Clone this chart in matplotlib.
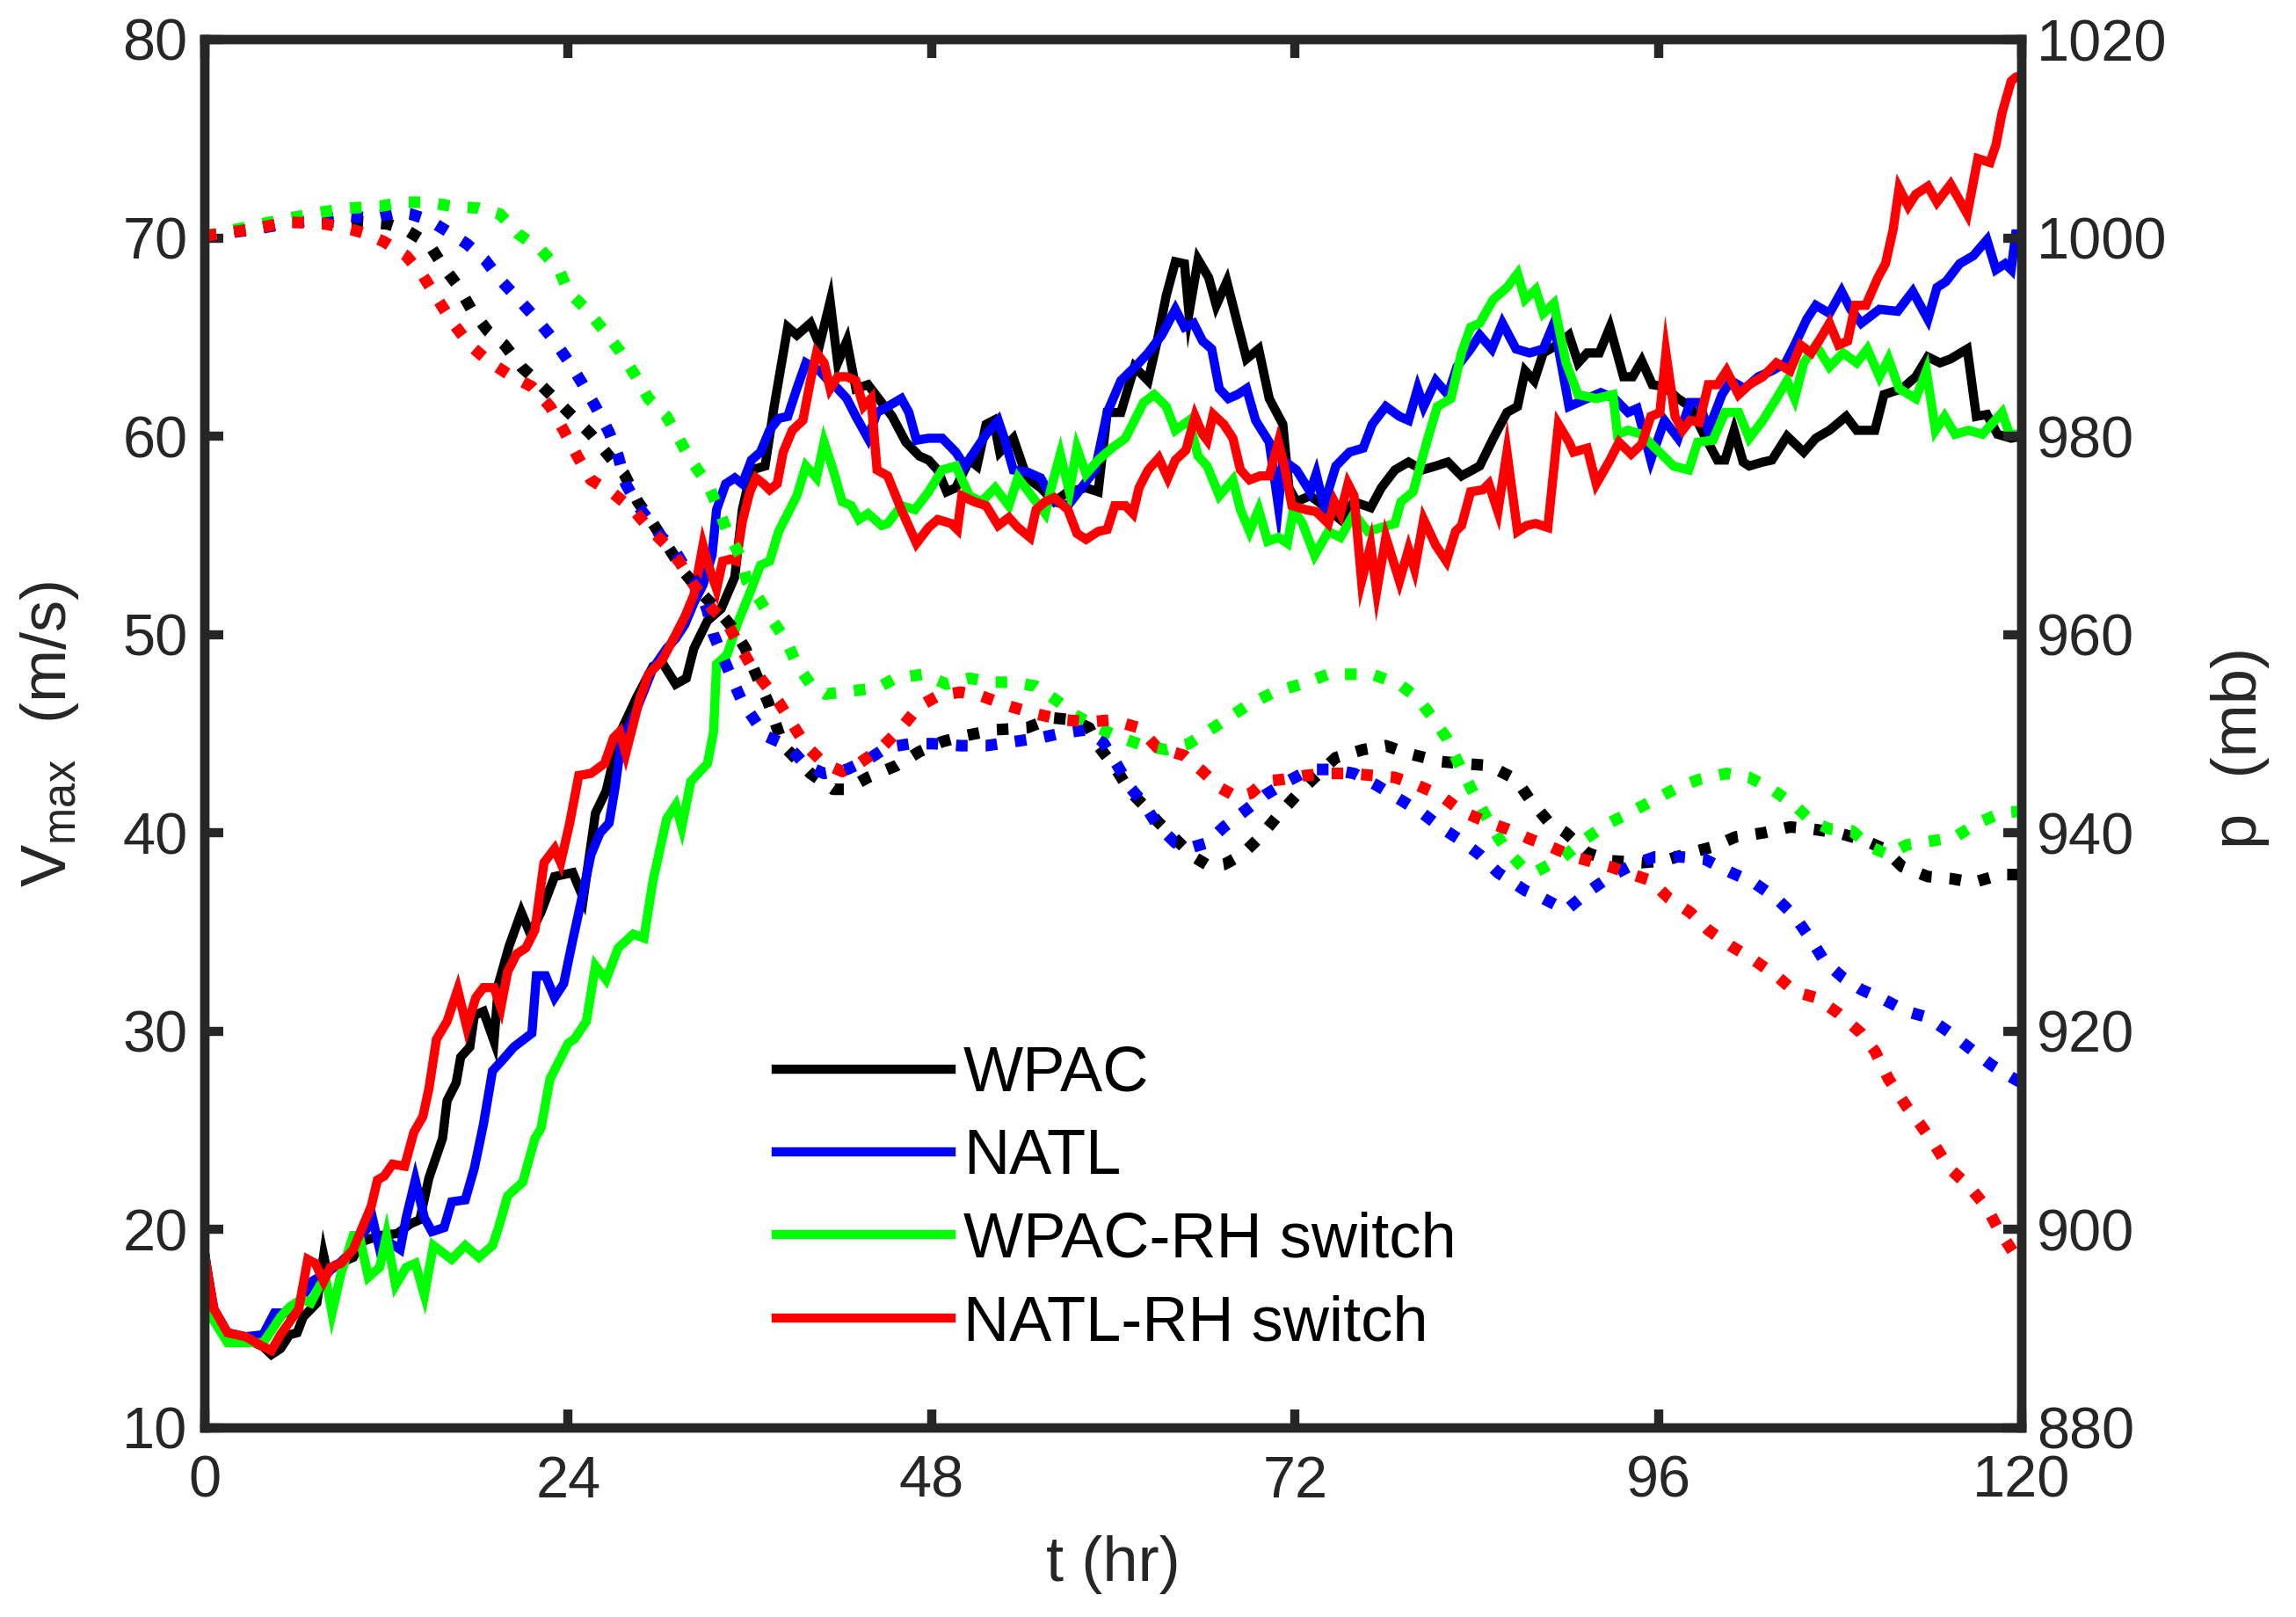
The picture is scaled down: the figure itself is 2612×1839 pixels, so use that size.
import matplotlib
matplotlib.use("Agg")
import matplotlib.pyplot as plt

plt.rcParams['font.family'] = ['Liberation Sans', 'DejaVu Sans']
plt.rcParams['mathtext.fontset'] = 'custom'
plt.rcParams['mathtext.rm'] = 'Liberation Sans'
plt.rcParams['mathtext.it'] = 'Liberation Sans:italic'

labels = ["WPAC", "NATL", "WPAC-RH switch", "NATL-RH switch"]
colors = ["#000000", "#0000ff", "#00ff00", "#ff0000"]

# ---- Vmax (m/s), solid lines ----
t_wpac = [0, 0.6, 1.5, 2.7, 3.85, 4.4, 5.0, 5.6, 6.1, 6.5, 7.4, 7.85, 8.1, 8.6, 9.8, 10.4, 11.55, 12.7, 13.6, 14.2,
          14.8, 15.7, 16.0, 16.6, 16.9, 17.5, 17.8, 18.4, 19.1, 19.4, 20.1, 20.9, 21.5, 22.2, 23.1, 24.3, 25.0, 25.8,
          26.5, 27.4, 28.5, 29.6, 30.2, 31.1, 31.8, 32.3, 33.2, 34.1, 35.0, 35.5, 36.1, 37.0, 37.6, 38.5, 39.1, 40.0,
          40.6, 41.3, 41.8, 42.4, 43.0, 43.8, 44.7, 45.4, 46.3, 47.2, 47.8, 48.4, 49.0, 49.6, 50.5, 51.0, 51.6, 52.1,
          52.5, 53.4, 54.3, 55.2, 56.1, 57.0, 58.2, 59.0, 59.6, 60.5, 61.4, 62.3, 62.9, 63.5, 64.1, 64.7, 65.0, 65.6,
          66.3, 66.8, 67.5, 68.2, 68.8, 69.6, 70.3, 71.2, 71.6, 72.1, 73.0, 73.9, 75.0, 75.9, 77.0, 77.7, 78.6, 79.5,
          80.4, 81.3, 82.1, 83.0, 84.2, 85.1, 86.0, 86.7, 87.2, 87.8, 88.4, 89.3, 90.1, 90.7, 91.3, 92.1, 92.8, 93.7,
          94.3, 94.9, 95.6, 96.4, 97.3, 98.1, 99.0, 99.9, 100.4, 101.0, 101.6, 102.0, 102.9, 103.5, 104.5, 105.6,
          106.4, 107.3, 108.4, 109.1, 110.3, 110.9, 112.1, 113.0, 113.8, 114.6, 115.3, 116.4, 117.0, 117.7, 118.4,
          119.3, 120]
v_wpac = [18.8, 15.8, 14.7, 14.5, 14.1, 13.7, 14.0, 14.7, 14.8, 15.6, 16.3, 18.7, 17.8, 18.2, 18.6, 19.4, 19.7, 19.8,
          20.3, 20.5, 22.6, 24.6, 26.5, 27.4, 28.7, 29.2, 30.8, 31.0, 29.5, 32.4, 34.3, 36.0, 34.9, 36.0, 37.8, 38.0,
          36.7, 41.0, 42.1, 45.0, 46.8, 48.4, 48.6, 47.5, 47.8, 49.3, 50.7, 51.3, 52.9, 56.3, 58.3, 58.5, 61.5, 65.5,
          65.1, 65.7, 64.6, 66.8, 63.7, 64.8, 62.4, 62.6, 61.7, 61.0, 59.7, 59.0, 58.8, 58.3, 57.2, 57.4, 58.8, 58.5,
          60.6, 60.8, 59.2, 59.9, 57.9, 57.4, 56.7, 57.2, 57.4, 57.2, 61.2, 61.2, 63.5, 62.8, 64.8, 67.1, 68.8, 68.7,
          66.2, 68.9, 68.0, 66.6, 67.8, 65.7, 63.9, 64.4, 61.9, 60.6, 57.4, 56.7, 57.0, 56.5, 55.8, 56.7, 56.4, 57.4,
          58.3, 58.7, 58.3, 58.5, 58.7, 58.0, 58.5, 59.9, 61.2, 61.5, 63.3, 62.8, 64.2, 64.6, 65.1, 63.7, 64.2, 64.2,
          65.5, 63.0, 63.0, 63.8, 62.6, 62.5, 61.9, 61.5, 60.1, 58.8, 58.8, 60.3, 58.7, 58.5, 58.7, 58.8, 60.0, 59.2,
          59.9, 60.3, 61.0, 60.3, 60.3, 62.1, 62.4, 63.0, 64.0, 63.7, 63.9, 64.4, 61.0, 61.1, 60.1, 59.9, 60.0]

t_natl = [0, 0.6, 1.5, 2.7, 3.85, 4.6, 5.6, 6.2, 7.1, 8.0, 8.9, 9.8, 10.4, 11.1, 11.55, 12.1, 12.9, 13.3, 13.9, 14.5,
          15.0, 15.8, 16.3, 17.2, 17.8, 18.4, 19.0, 19.6, 20.4, 21.6, 21.9, 22.5, 23.1, 23.7, 24.3, 24.9, 25.5, 26.1,
          26.7, 27.1, 27.5, 28.4, 29.6, 30.5, 31.1, 31.7, 32.3, 32.9, 33.5, 33.8, 34.4, 35.0, 35.5, 36.1, 36.7, 37.3,
          37.9, 38.5, 39.1, 39.7, 40.6, 41.2, 41.8, 42.4, 43.0, 43.8, 44.4, 45.1, 46.0, 46.5, 47.0, 47.8, 48.7, 49.6,
          50.2, 50.9, 51.6, 52.4, 52.8, 53.4, 54.3, 55.2, 56.1, 57.0, 57.9, 58.8, 59.3, 59.6, 60.5, 61.7, 62.3, 63.2,
          64.1, 64.7, 65.3, 65.9, 66.5, 67.0, 67.6, 68.2, 68.8, 69.4, 70.3, 70.9, 71.2, 72.1, 73.0, 73.4, 73.9, 74.7,
          75.6, 76.5, 77.1, 78.0, 78.9, 79.5, 80.1, 80.5, 81.3, 82.1, 82.7, 83.6, 84.2, 85.0, 85.7, 86.6, 87.5, 88.4,
          89.1, 90.1, 91.3, 92.2, 93.1, 94.0, 94.6, 95.5, 96.4, 97.3, 98.1, 98.7, 99.3, 100.2, 100.8, 101.7, 102.6,
          103.5, 104.4, 105.0, 105.8, 106.4, 107.3, 108.1, 108.7, 109.4, 110.6, 111.8, 112.8, 113.8, 114.4, 115.0,
          115.9, 116.8, 117.7, 118.3, 118.9, 119.3, 119.6, 120]
v_natl = [18.6, 16.0, 14.8, 14.6, 14.7, 15.8, 15.8, 16.3, 17.4, 17.8, 18.3, 19.0, 19.7, 20.5, 19.0, 19.4, 19.0, 20.6,
          22.5, 20.6, 19.9, 20.1, 21.4, 21.5, 23.1, 25.3, 28.0, 28.5, 29.2, 29.9, 32.8, 32.8, 31.7, 32.4, 34.6, 36.7,
          38.9, 40.0, 40.5, 42.3, 44.6, 46.0, 48.3, 49.3, 49.8, 50.5, 51.6, 52.5, 54.0, 56.3, 57.6, 57.9, 57.6, 58.8,
          59.2, 60.3, 60.9, 61.0, 62.4, 63.7, 63.3, 62.8, 62.4, 61.9, 61.0, 59.9, 61.2, 61.5, 61.9, 61.2, 59.8, 59.9,
          59.9, 59.2, 58.5, 59.3, 60.1, 60.8, 59.9, 58.3, 58.2, 57.9, 56.7, 56.5, 57.4, 58.3, 60.1, 61.2, 62.8, 63.7,
          64.2, 65.1, 66.4, 65.5, 65.7, 64.8, 64.4, 62.4, 61.9, 62.1, 62.4, 60.8, 59.7, 56.5, 58.8, 58.3, 57.2, 58.1,
          56.5, 58.5, 59.2, 59.4, 60.6, 61.5, 61.0, 60.8, 62.4, 61.5, 62.8, 62.1, 63.5, 64.4, 65.1, 64.4, 65.7, 64.4,
          64.2, 64.4, 65.7, 61.5, 61.9, 62.2, 61.9, 61.2, 61.4, 58.8, 60.8, 59.9, 61.7, 61.7, 60.3, 62.1, 62.8, 62.4,
          63.0, 63.3, 63.7, 64.6, 65.9, 66.6, 66.2, 67.3, 66.4, 65.7, 66.4, 66.3, 67.3, 65.9, 67.5, 67.8, 68.7, 69.1,
          69.9, 68.4, 68.7, 68.4, 70.2, 70.2]

t_wpac_rh = [0, 0.6, 1.5, 2.7, 3.85, 4.4, 5.0, 5.6, 6.4, 7.0, 7.6, 8.0, 8.4, 9.0, 9.8, 10.2, 10.8, 11.55, 12.0, 12.6,
             13.3, 13.9, 14.5, 15.1, 16.3, 17.2, 18.1, 19.0, 19.4, 20.0, 21.0, 21.8, 22.2, 22.8, 23.4, 24.0, 24.4,
             25.2, 25.8, 26.5, 27.3, 28.3, 29.0, 29.6, 30.5, 31.1, 31.5, 32.1, 33.2, 33.6, 33.8, 34.5, 35.2, 36.1,
             36.7, 37.3, 37.9, 38.5, 39.1, 39.7, 40.4, 40.9, 41.5, 42.1, 42.7, 43.2, 43.8, 44.7, 45.1, 46.0, 46.9,
             47.8, 48.7, 49.6, 50.5, 51.3, 52.2, 53.1, 53.7, 54.6, 55.5, 55.9, 56.5, 57.1, 57.6, 58.2, 59.0, 59.9,
             60.8, 61.4, 62.0, 62.7, 63.5, 64.1, 65.0, 65.6, 66.2, 67.0, 67.9, 68.4, 69.0, 69.6, 70.2, 70.9, 71.5,
             71.9, 72.5, 73.3, 74.2, 75.0, 75.9, 76.8, 77.7, 78.6, 79.0, 79.8, 80.7, 81.4, 82.3, 83.0, 83.6, 84.2,
             85.1, 86.0, 86.7, 87.2, 87.9, 88.4, 89.1, 89.9, 90.7, 91.9, 93.0, 93.3, 94.0, 94.9, 95.8, 97.0, 98.0,
             98.6, 99.6, 100.4, 101.3, 102.0, 102.9, 103.8, 104.5, 105.0, 105.6, 106.4, 107.3, 108.2, 109.1, 109.8,
             110.6, 111.2, 111.9, 113.0, 113.7, 114.3, 114.9, 115.6, 116.5, 117.4, 118.0, 118.7, 119.2, 120]
v_wpac_rh = [18.6, 15.4, 14.3, 14.3, 14.3, 14.9, 15.6, 16.1, 16.5, 16.3, 17.2, 17.5, 15.8, 17.8, 19.7, 19.7, 17.6,
             18.1, 19.7, 17.2, 18.1, 18.3, 16.7, 19.2, 18.5, 19.2, 18.6, 19.2, 20.1, 21.7, 22.4, 24.6, 25.1, 27.6,
             28.5, 29.4, 29.6, 30.5, 33.3, 32.6, 34.2, 34.9, 34.7, 37.6, 40.7, 41.4, 40.3, 42.6, 43.5, 45.1, 48.5,
             49.0, 50.6, 52.3, 53.5, 53.7, 55.2, 56.1, 57.0, 58.5, 57.9, 59.7, 58.3, 56.7, 56.5, 55.8, 56.1, 55.5,
             55.6, 56.5, 56.3, 57.2, 58.3, 58.5, 57.0, 56.7, 57.4, 56.5, 57.9, 57.0, 56.1, 57.4, 59.1, 57.2, 59.4,
             58.1, 58.8, 59.4, 59.9, 60.8, 61.7, 62.1, 61.5, 60.3, 60.8, 59.0, 58.5, 57.0, 57.8, 56.3, 55.2, 56.3,
             54.7, 54.9, 54.6, 56.3, 55.6, 54.0, 55.2, 54.9, 56.1, 55.2, 55.4, 55.6, 56.7, 57.2, 59.7, 61.5, 61.9,
             64.2, 65.5, 65.7, 66.9, 67.5, 68.2, 66.9, 67.4, 66.2, 66.7, 63.7, 62.1, 61.9, 62.1, 60.1, 60.3, 60.1,
             59.4, 58.5, 58.3, 59.7, 59.8, 61.2, 61.2, 59.9, 60.8, 61.9, 62.8, 61.9, 63.7, 64.6, 63.5, 64.2, 63.7,
             64.4, 63.0, 63.9, 62.4, 61.9, 63.3, 60.3, 61.0, 60.1, 60.3, 60.1, 60.6, 61.2, 60.1, 60.1]

t_natl_rh = [0, 0.6, 1.5, 2.7, 3.85, 4.4, 5.0, 5.6, 6.2, 6.8, 7.3, 7.85, 8.3, 9.0, 9.8, 10.4, 11.0, 11.4, 11.85, 12.4,
             13.2, 13.8, 14.4, 14.8, 15.3, 16.0, 16.7, 17.3, 17.9, 18.4, 19.1, 19.55, 20.0, 20.6, 21.2, 21.8, 22.4,
             23.1, 23.5, 24.1, 24.7, 25.5, 26.4, 27.0, 27.4, 27.8, 28.7, 29.3, 30.2, 31.1, 31.7, 32.3, 32.9, 33.3,
             33.8, 34.2, 34.7, 35.1, 35.5, 36.0, 36.4, 36.9, 37.3, 37.8, 38.2, 38.8, 39.5, 40.0, 40.4, 40.9, 41.3,
             41.8, 42.4, 43.0, 43.5, 44.0, 44.4, 45.1, 46.0, 47.0, 47.8, 48.4, 49.3, 49.7, 50.0, 50.8, 51.6, 52.4,
             53.1, 53.7, 54.5, 54.9, 55.5, 56.1, 57.0, 57.6, 58.2, 59.0, 59.6, 60.1, 60.8, 61.3, 61.7, 62.3, 63.0,
             63.6, 64.1, 64.8, 65.4, 65.9, 66.2, 66.6, 67.3, 67.9, 68.4, 69.0, 69.7, 70.3, 70.9, 71.3, 71.8, 72.7,
             73.4, 74.2, 74.6, 75.0, 75.5, 75.9, 76.4, 77.0, 77.4, 78.0, 78.9, 79.5, 79.9, 80.5, 81.3, 82.0, 82.6,
             83.0, 83.6, 84.4, 84.8, 85.4, 86.0, 86.7, 87.3, 87.9, 88.7, 89.4, 90.1, 90.4, 91.3, 91.9, 92.8, 93.4,
             94.2, 94.9, 95.5, 96.1, 96.5, 97.1, 97.6, 98.1, 98.7, 99.3, 99.9, 100.5, 101.3, 102.0, 102.9, 103.8,
             104.7, 105.4, 106.1, 106.6, 107.3, 107.9, 108.5, 109.0, 109.7, 110.5, 111.0, 111.5, 111.9, 112.5, 113.0,
             113.8, 114.4, 115.3, 116.4, 117.1, 117.9, 118.3, 118.7, 119.3, 119.6, 120]
v_natl_rh = [18.6, 16.0, 14.8, 14.6, 14.1, 13.9, 14.7, 15.35, 16.0, 18.5, 18.3, 17.4, 18.1, 18.3, 19.0, 20.1, 21.2,
             22.5, 22.7, 23.3, 23.2, 24.9, 25.7, 27.1, 29.6, 30.5, 32.1, 30.2, 31.7, 32.2, 32.2, 31.2, 33.0, 33.9,
             34.2, 35.1, 38.5, 39.2, 38.5, 40.5, 42.9, 43.0, 43.5, 44.8, 45.1, 44.0, 46.7, 48.0, 48.7, 50.0, 50.9,
             52.0, 54.5, 53.4, 52.3, 53.7, 53.8, 53.7, 55.7, 57.2, 57.9, 57.6, 57.3, 57.6, 59.2, 60.3, 60.8, 62.8,
             64.2, 63.7, 62.4, 63.0, 63.0, 62.8, 61.5, 61.9, 58.3, 58.0, 56.3, 54.6, 55.4, 55.8, 55.6, 55.3, 57.0,
             56.7, 56.5, 55.5, 55.9, 55.4, 54.9, 56.3, 56.7, 56.9, 56.3, 55.1, 54.8, 55.2, 55.3, 56.5, 56.5, 56.1,
             57.4, 58.3, 58.9, 57.9, 58.8, 59.3, 61.0, 60.1, 59.8, 61.1, 60.6, 59.9, 58.3, 57.8, 58.0, 58.0, 59.7,
             58.5, 56.5, 56.3, 56.2, 55.6, 56.7, 56.1, 57.6, 57.0, 52.7, 54.5, 52.2, 54.9, 52.7, 54.3, 53.3, 55.8,
             54.5, 53.7, 55.2, 55.5, 57.2, 57.3, 57.6, 56.2, 59.2, 55.2, 55.5, 55.6, 55.4, 60.6, 59.7, 59.2, 59.4,
             57.6, 58.8, 59.7, 59.1, 59.6, 61.0, 61.2, 64.2, 61.0, 60.3, 60.8, 60.7, 62.6, 62.6, 63.3, 62.1, 62.6,
             63.0, 63.7, 63.3, 64.6, 64.2, 64.8, 65.7, 64.6, 64.8, 66.6, 66.6, 68.0, 68.7, 70.4, 72.5, 71.6, 72.2,
             72.6, 71.8, 72.7, 71.2, 74.0, 73.8, 74.7, 76.3, 77.9, 78.1, 78.2]

# ---- minimum pressure (mb), dotted lines ----
tp_wpac = [0, 2.7, 5.6, 8.6, 10.4, 12.1, 13.3, 14.8, 15.8, 16.7, 17.6, 18.7, 19.8, 20.9, 21.9, 23.1, 24.3, 25.5, 26.7,
           27.7, 28.6, 29.6, 30.7, 31.7, 32.9, 33.8, 34.8, 35.7, 36.4, 37.2, 38.2, 40.0, 41.5, 42.4, 43.8, 45.7,
           47.2, 48.7, 50.2, 52.2, 54.3, 56.0, 57.3, 58.4, 59.0, 60.2, 61.1, 62.0, 62.9, 64.1, 65.3, 66.4, 67.3,
           68.5, 69.7, 70.9, 72.1, 73.3, 74.7, 76.5, 78.0, 79.5, 81.6, 83.0, 84.8, 86.6, 87.5, 88.7, 89.9, 91.3,
           92.8, 94.9, 96.4, 98.1, 99.6, 101.1, 102.9, 104.7, 106.1, 107.9, 109.7, 110.9, 112.1, 113.8, 115.3,
           116.8, 118.6, 120]
p_wpac = [1000.2, 1000.8, 1001.6, 1001.6, 1001.6, 1001.4, 1000.8, 999.4, 997.0, 995.2, 992.8, 990.6, 989.2, 987.0,
          985.6, 983.8, 982.0, 980.2, 978.0, 976.2, 973.4, 971.2, 968.6, 966.2, 964.0, 962.6, 960.8, 958.6, 956.0,
          953.2, 948.8, 946.0, 944.4, 944.4, 945.6, 946.8, 948.2, 949.2, 949.8, 950.4, 950.6, 951.6, 951.4, 950.6,
          948.8, 946.4, 944.2, 942.8, 941.2, 939.4, 937.6, 936.6, 936.8, 937.8, 939.6, 941.8, 943.8, 945.6, 947.6,
          948.4, 948.8, 948.0, 947.2, 947.0, 946.8, 945.4, 943.4, 941.2, 940.0, 938.0, 937.2, 937.0, 937.2, 938.0,
          938.6, 939.6, 940.0, 940.6, 940.4, 940.0, 939.2, 938.4, 936.6, 935.6, 935.4, 935.0, 935.8, 935.8]

tp_natl = [0, 3.0, 6.0, 9.5, 11.0, 12.7, 13.6, 14.8, 16.3, 17.3, 18.5, 19.5, 20.6, 21.8, 23.0, 24.0, 24.9, 25.8, 26.7,
           27.3, 27.8, 28.6, 29.5, 30.2, 31.0, 31.7, 32.6, 33.2, 33.6, 34.2, 34.8, 35.5, 36.3, 37.0, 38.5, 39.7,
           40.9, 42.4, 43.8, 45.0, 46.6, 48.1, 49.9, 51.6, 53.4, 55.2, 56.4, 58.2, 59.3, 60.2, 61.1, 62.0, 62.9,
           64.1, 65.3, 66.2, 67.3, 68.5, 70.0, 71.5, 73.0, 74.4, 75.9, 77.4, 78.9, 80.4, 81.6, 83.0, 84.2, 85.4,
           87.2, 88.4, 89.9, 91.3, 92.8, 94.3, 95.8, 97.3, 99.0, 100.8, 102.3, 103.8, 105.0, 106.1, 107.0, 108.2,
           109.4, 110.9, 112.4, 113.8, 115.3, 116.8, 118.0, 119.5, 120]
p_natl = [1000.2, 1000.8, 1001.6, 1002.2, 1002.0, 1002.6, 1002.4, 1001.8, 1000.4, 999.4, 997.8, 995.8, 994.0, 992.0,
          989.8, 987.6, 985.4, 983.0, 980.4, 978.0, 975.2, 973.0, 971.2, 969.8, 968.6, 966.8, 965.0, 962.4, 960.0,
          957.8, 955.6, 953.2, 951.4, 949.8, 948.8, 946.8, 946.0, 946.4, 947.4, 948.6, 949.0, 949.0, 948.8, 948.8,
          949.2, 949.6, 950.0, 950.4, 949.2, 947.0, 944.6, 943.0, 940.8, 939.0, 938.6, 939.0, 940.6, 942.0, 943.8,
          945.2, 946.4, 946.4, 946.0, 944.8, 943.4, 942.0, 940.6, 939.2, 937.8, 936.0, 934.2, 933.4, 932.2, 934.0,
          935.6, 936.8, 937.6, 937.6, 937.4, 936.0, 935.0, 933.4, 931.6, 929.2, 927.0, 925.4, 924.2, 923.2, 922.0,
          921.4, 919.8, 918.0, 916.6, 915.2, 914.8]

tp_wpac_rh = [0, 5.6, 7.7, 9.5, 11.6, 13.0, 14.8, 16.3, 18.1, 19.5, 20.7, 22.2, 23.4, 24.0, 25.2, 26.4, 27.4, 28.4,
              29.3, 30.5, 31.3, 32.1, 33.2, 33.9, 34.5, 35.4, 35.8, 36.6, 37.5, 38.4, 39.1, 40.0, 41.0, 42.1, 43.2,
              44.4, 45.6, 47.5, 49.0, 50.5, 51.9, 53.4, 54.9, 56.4, 57.6, 59.0, 60.5, 62.0, 63.5, 65.0, 67.0, 68.8,
              70.6, 72.4, 74.2, 75.6, 77.1, 78.9, 80.1, 81.1, 82.0, 83.0, 84.0, 85.0, 86.0, 87.0, 87.8, 88.8, 89.6,
              91.0, 92.5, 94.3, 95.8, 97.3, 98.7, 100.5, 102.0, 103.5, 105.0, 106.1, 107.3, 108.8, 110.0, 111.2,
              112.4, 114.1, 115.6, 117.1, 118.6, 120]
p_wpac_rh = [1000.2, 1002.0, 1002.6, 1003.0, 1003.2, 1003.6, 1003.6, 1003.2, 1003.0, 1002.4, 1000.4, 998.8, 996.8,
             994.6, 992.8, 990.6, 988.6, 986.2, 983.8, 982.0, 979.8, 977.6, 975.2, 972.8, 970.4, 967.8, 965.4, 963.6,
             961.4, 959.4, 957.0, 955.0, 954.0, 954.2, 954.4, 954.6, 955.6, 956.0, 955.0, 955.6, 955.2, 955.2, 954.8,
             953.2, 951.8, 950.6, 949.6, 948.8, 948.4, 949.0, 951.0, 952.8, 954.2, 955.0, 956.0, 956.0, 956.0, 955.0,
             953.6, 951.6, 949.6, 946.4, 943.4, 940.6, 938.2, 936.6, 936.0, 936.8, 937.4, 939.2, 940.8, 942.2, 943.4,
             944.6, 945.4, 946.0, 945.6, 944.4, 942.8, 941.2, 940.4, 940.2, 938.6, 937.8, 938.8, 939.2, 939.6, 941.0,
             942.0, 942.2]

tp_natl_rh = [0, 2.7, 5.6, 8.0, 9.8, 10.7, 11.85, 13.3, 14.4, 15.3, 16.3, 17.5, 18.7, 20.1, 21.6, 22.8, 23.7, 24.6,
              25.5, 27.0, 28.3, 29.3, 30.5, 31.4, 32.3, 33.5, 34.4, 35.2, 36.1, 37.0, 37.9, 38.8, 39.7, 40.9, 42.1,
              43.2, 44.7, 46.0, 47.2, 48.4, 49.9, 51.3, 53.1, 54.9, 56.7, 58.5, 59.9, 61.7, 62.9, 64.7, 65.9, 67.0,
              68.2, 69.1, 70.0, 71.2, 72.7, 74.2, 75.6, 77.1, 78.6, 80.1, 81.6, 83.0, 84.5, 86.0, 87.5, 88.9, 90.4,
              92.8, 94.3, 95.5, 96.7, 98.1, 99.3, 100.8, 102.3, 103.8, 105.0, 106.4, 107.9, 109.4, 110.3, 111.2,
              112.4, 113.3, 114.3, 115.2, 116.5, 117.7, 118.4, 119.4, 120]
p_natl_rh = [1000.2, 1000.8, 1001.6, 1001.4, 1000.8, 1000.4, 999.6, 998.2, 996.2, 994.0, 991.6, 989.2, 987.6, 986.2,
             985.0, 983.0, 980.6, 978.0, 975.6, 974.2, 972.6, 970.8, 969.0, 967.2, 965.0, 962.6, 961.4, 959.2, 956.8,
             955.0, 953.2, 951.0, 948.8, 947.0, 946.2, 947.0, 948.6, 950.6, 952.8, 953.8, 954.2, 953.8, 952.8, 952.0,
             951.4, 951.2, 951.4, 950.6, 948.6, 947.8, 946.2, 944.6, 943.6, 944.0, 945.2, 945.4, 945.8, 946.0, 946.0,
             945.8, 945.6, 944.8, 943.8, 942.2, 941.2, 940.4, 939.4, 938.6, 937.6, 936.6, 935.8, 935.2, 933.4, 932.0,
             930.2, 928.6, 927.2, 925.6, 924.0, 923.4, 921.8, 919.8, 918.0, 915.2, 912.4, 910.6, 908.4, 906.2, 904.4,
             902.2, 900.2, 897.8, 897.2]

v_series = [(t_wpac, v_wpac), (t_natl, v_natl), (t_wpac_rh, v_wpac_rh), (t_natl_rh, v_natl_rh)]
p_series = [(tp_wpac, p_wpac), (tp_natl, p_natl), (tp_wpac_rh, p_wpac_rh), (tp_natl_rh, p_natl_rh)]

axcol = "#262626"
W, H = 2612, 1839
fig = plt.figure(figsize=(W / 100, H / 100), dpi=100)
ax = fig.add_axes([233 / W, 1 - 1624 / H, (2300 - 233) / W, (1624 - 45) / H])
ax2 = ax.twinx()

handles = []
for (tt, vv), c, lab in zip(v_series, colors, labels):
    h, = ax.plot(tt, vv, color=c, lw=7.5, solid_joinstyle='miter', label=lab)
    handles.append(h)
for (tt, pp), c in zip(p_series, colors):
    ax2.plot(tt, pp, color=c, lw=9.5, linestyle=(0, (1, 1.55)), dash_capstyle='butt')

ax.set_xlim(0, 120)
ax.set_ylim(10, 80)
ax2.set_ylim(880, 1020)
ax.set_xticks([0, 24, 48, 72, 96, 120])
ax.set_yticks(range(10, 81, 10))
ax2.set_yticks(range(880, 1021, 20))

for a in (ax, ax2):
    for s in a.spines.values():
        s.set_linewidth(7.5)
        s.set_color(axcol)
ax.tick_params(axis='x', which='both', direction='in', length=15, width=7.5, color=axcol,
               labelcolor=axcol, labelsize=48, pad=22, top=True)
ax.tick_params(axis='y', direction='in', length=15, width=7.5, color=axcol,
               labelcolor=axcol, labelsize=48, pad=14, right=False)
ax2.tick_params(axis='y', direction='in', length=15, width=7.5, color=axcol,
                labelcolor=axcol, labelsize=48, pad=12)

ax.set_xlabel("t (hr)", fontsize=52, color=axcol)
ax.xaxis.set_label_coords(0.5, -0.077)
ax.set_ylabel(r"V$_{\mathrm{max}}$  (m/s)", fontsize=52, color=axcol)
ax.yaxis.set_label_coords(-0.068, 0.5)
ax2.set_ylabel("p  (mb)", fontsize=52, color=axcol)
ax2.yaxis.set_label_coords(1.104, 0.49)

ax2.legend(handles=handles, labels=labels, loc='center left',
           bbox_to_anchor=(883 / W, 1 - 1364 / H), bbox_transform=fig.transFigure,
           frameon=False, fontsize=52, borderpad=0, borderaxespad=0,
           handlelength=2.75, handletextpad=0.2, labelspacing=0.38)

fig.savefig("out.png", dpi=100, facecolor='white')
